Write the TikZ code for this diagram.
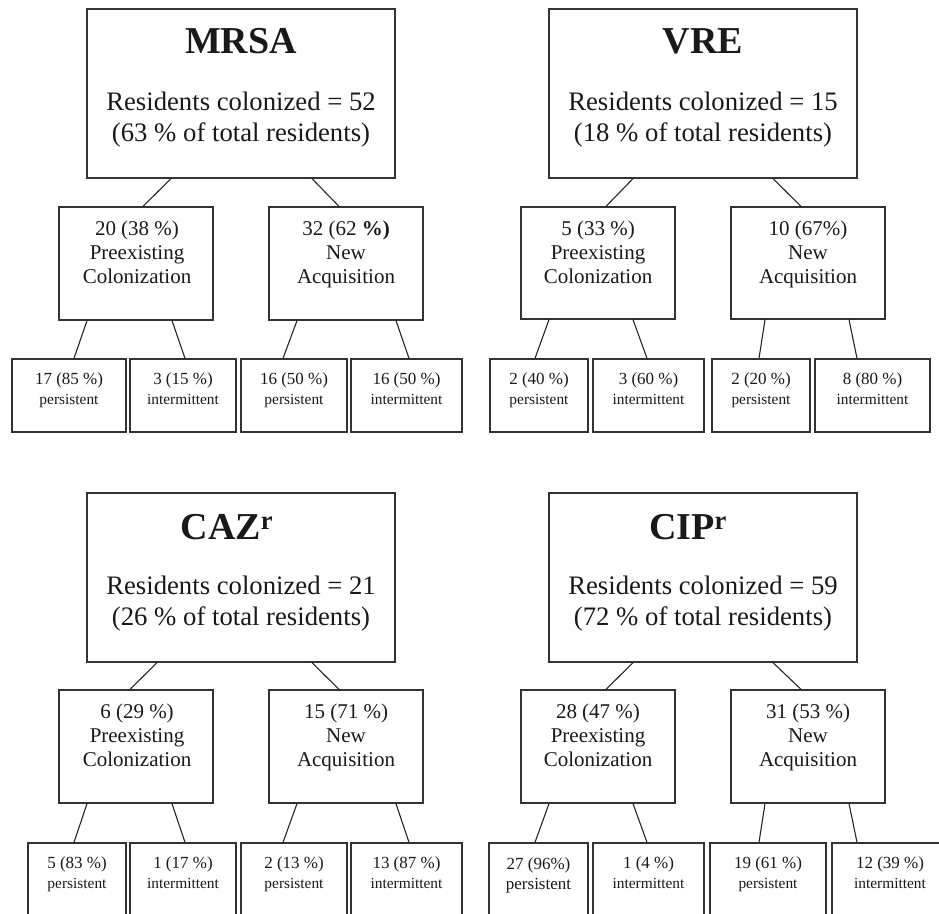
\documentclass[tikz,border=0pt]{standalone}
\usepackage{fontspec}
\setmainfont{Liberation Serif}
\usetikzlibrary{calc}
\tikzset{
  box/.style={draw=black!80, line width=1.3pt, inner sep=0pt, rectangle},
  conn/.style={draw=black!85, line width=1.1pt},
  ttl/.style={font=\fontsize{38}{38}\selectfont\bfseries, anchor=base, inner sep=0pt, text=black!90},
  bigtxt/.style={font=\fontsize{26.7}{31}\selectfont, align=center, anchor=base, inner sep=0pt, text=black!90},
  midtxt/.style={font=\fontsize{21}{24}\selectfont, align=center, anchor=base, inner sep=0pt, text=black!90},
  smltxt/.style={font=\fontsize{17}{20}\selectfont, align=center, anchor=base, inner sep=0pt, text=black!90},
}
% box from (x1,y1) to (x2,y2)
\newcommand\bx[5]{\node[box, minimum width={#4-#2}, minimum height={#5-#3}] (#1) at ({(#2+#4)/2},{(#3+#5)/2}) {};}
% two-line small text; y = baseline of the last line
\newcommand\bt[5]{\node[smltxt] (#1) at (#2,#3) {#4\\{\fontsize{15.4}{20}\selectfont #5}};}
\newcommand\cnx[4]{\draw[conn] let \p1=(#1.south), \p2=(#3.north) in (#2pt,\y1) -- (#4pt,\y2);}
\begin{document}
\begin{tikzpicture}[x=1pt,y=-1pt]
\useasboundingbox (0,0) rectangle (939,913);
\clip (0,0) rectangle (939,913);

% ---------------- MRSA ----------------
\bx{mrsa}{87}{9}{395}{178}
\node[ttl] (mrsaT) at (241,53) {MRSA};
\node[bigtxt] (mrsaL) at (241,141.7) {Residents colonized = 52\\(63 \% of total residents)};
\bx{mrsaP}{59}{207}{213}{320}
\node[midtxt] (mrsaPt) at (137,283) {20 (38 \%)\\Preexisting\\Colonization};
\bx{mrsaN}{269}{207}{423}{320}
\node[midtxt] (mrsaNt) at (346,283) {32 (62 \textbf{\%)}\\New\\Acquisition};
\bx{mrsa1}{12}{359}{126}{432}
\bt{mrsa1t}{69}{404}{17 (85 \%)}{persistent}
\bx{mrsa2}{130}{359}{236}{432}
\bt{mrsa2t}{183}{404}{3 (15 \%)}{intermittent}
\bx{mrsa3}{241}{359}{347}{432}
\bt{mrsa3t}{294}{404}{16 (50 \%)}{persistent}
\bx{mrsa4}{351}{359}{462}{432}
\bt{mrsa4t}{406.5}{404}{16 (50 \%)}{intermittent}
\cnx{mrsa}{171}{mrsaP}{143}
\cnx{mrsa}{312}{mrsaN}{339}
\cnx{mrsaP}{87}{mrsa1}{74}
\cnx{mrsaP}{172}{mrsa2}{185}
\cnx{mrsaN}{297}{mrsa3}{283}
\cnx{mrsaN}{396}{mrsa4}{409}

% ---------------- VRE ----------------
\bx{vre}{549}{9}{857}{178}
\node[ttl] (vreT) at (703,53) {VRE};
\node[bigtxt] (vreL) at (703,141.7) {Residents colonized = 15\\(18 \% of total residents)};
\bx{vreP}{521}{207}{675}{319}
\node[midtxt] (vrePt) at (598,283) {5 (33 \%)\\Preexisting\\Colonization};
\bx{vreN}{731}{207}{885}{319}
\node[midtxt] (vreNt) at (808,283) {10 (67\%)\\New\\Acquisition};
\bx{vre1}{490}{359}{588}{432}
\bt{vre1t}{539}{404}{2 (40 \%)}{persistent}
\bx{vre2}{593}{359}{704}{432}
\bt{vre2t}{648.5}{404}{3 (60 \%)}{intermittent}
\bx{vre3}{712}{359}{810}{432}
\bt{vre3t}{761}{404}{2 (20 \%)}{persistent}
\bx{vre4}{815}{359}{930}{432}
\bt{vre4t}{872.5}{404}{8 (80 \%)}{intermittent}
\cnx{vre}{633}{vreP}{606}
\cnx{vre}{773}{vreN}{801}
\cnx{vreP}{549}{vre1}{535}
\cnx{vreP}{633}{vre2}{647}
\cnx{vreN}{765}{vre3}{759}
\cnx{vreN}{849}{vre4}{857}

% ---------------- CAZ ----------------
\bx{caz}{87}{493}{395}{662}
\node[ttl] (cazT) at (227,539) {CAZ\textsuperscript{r}};
\node[bigtxt] (cazL) at (241,625) {Residents colonized = 21\\(26 \% of total residents)};
\bx{cazP}{59}{690}{213}{803}
\node[midtxt] (cazPt) at (137,766) {6 (29 \%)\\Preexisting\\Colonization};
\bx{cazN}{269}{690}{423}{803}
\node[midtxt] (cazNt) at (346,766) {15 (71 \%)\\New\\Acquisition};
\bx{caz1}{28}{843}{126}{916}
\bt{caz1t}{77}{888}{5 (83 \%)}{persistent}
\bx{caz2}{130}{843}{236}{916}
\bt{caz2t}{183}{888}{1 (17 \%)}{intermittent}
\bx{caz3}{241}{843}{347}{916}
\bt{caz3t}{294}{888}{2 (13 \%)}{persistent}
\bx{caz4}{351}{843}{462}{916}
\bt{caz4t}{406.5}{888}{13 (87 \%)}{intermittent}
\cnx{caz}{157}{cazP}{130}
\cnx{caz}{312}{cazN}{339}
\cnx{cazP}{87}{caz1}{74}
\cnx{cazP}{172}{caz2}{185}
\cnx{cazN}{297}{caz3}{283}
\cnx{cazN}{396}{caz4}{409}

% ---------------- CIP ----------------
\bx{cip}{549}{493}{857}{662}
\node[ttl] (cipT) at (688,539) {CIP\textsuperscript{r}};
\node[bigtxt] (cipL) at (703,625) {Residents colonized = 59\\(72 \% of total residents)};
\bx{cipP}{521}{690}{675}{803}
\node[midtxt] (cipPt) at (598,766) {28 (47 \%)\\Preexisting\\Colonization};
\bx{cipN}{731}{690}{885}{803}
\node[midtxt] (cipNt) at (808,766) {31 (53 \%)\\New\\Acquisition};
\bx{cip1}{489}{843}{588}{916}
\node[smltxt] (cip1t) at (538.5,889) {27 (96\%)\\persistent};
\bx{cip2}{593}{843}{704}{916}
\bt{cip2t}{648.5}{888}{1 (4 \%)}{intermittent}
\bx{cip3}{710}{843}{826}{916}
\bt{cip3t}{768}{888}{19 (61 \%)}{persistent}
\bx{cip4}{832}{843}{948}{916}
\bt{cip4t}{890}{888}{12 (39 \%)}{intermittent}
\cnx{cip}{633}{cipP}{606}
\cnx{cip}{773}{cipN}{801}
\cnx{cipP}{549}{cip1}{535}
\cnx{cipP}{633}{cip2}{647}
\cnx{cipN}{765}{cip3}{759}
\cnx{cipN}{849}{cip4}{857}
\end{tikzpicture}
\end{document}
